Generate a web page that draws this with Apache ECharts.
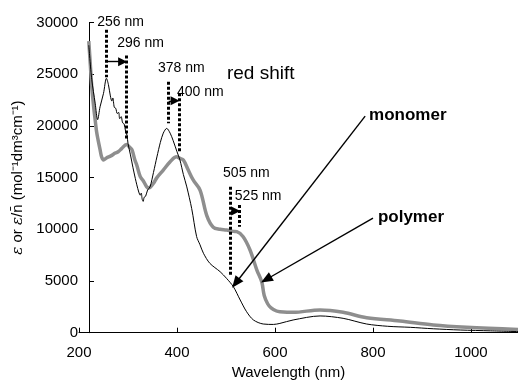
<!DOCTYPE html>
<html><head><meta charset="utf-8">
<script src="https://cdn.jsdelivr.net/npm/echarts@6/dist/echarts.min.js"></script>
<style>html,body{margin:0;padding:0;background:#fff}#c{width:518px;height:381px}</style>
</head><body><div id="c"></div>
<script>
// ---- data ----
const monomerNm = [220,226,233,238,243,250,256,260,264,267,269,272,275,278,281,283,286,289,292,295,298,300,305,310,315,318,322,325,327,329,331,333,336,340,345,352,359,366,372,379,386,392,400,406,413,420,430,440,447,454,467,488,501,515,529,542,556,576,597,610,637,692,739,787,830,876,923,978,1040,1100];
const monomerEps = [27800,24500,22200,20600,21850,23150,24600,24000,22900,22400,22700,21800,21700,21200,21300,20700,20900,20300,20200,19500,19100,18300,17200,16000,14900,14300,13600,13300,13500,12900,12700,13100,13200,13800,14100,15500,17000,18400,19300,19760,19300,18600,17500,16700,15300,14100,12000,9300,8500,7680,6710,5900,5260,4450,3160,2030,1230,840,800,900,1230,1620,1390,840,620,520,380,260,180,100];
const polymerNm = [220,223,226,230,233,236,239,243,246,250,256,265,274,280,287,297,304,308,314,318,325,331,338,341,345,352,359,372,386,399,406,413,423,433,447,461,474,488,501,515,522,535,549,563,573,578,585,592,603,610,637,692,739,787,855,923,991,1100];
const polymerEps = [28200,26000,23800,21800,20570,19400,18630,17700,17020,16700,16900,17100,17370,17500,17800,18200,17900,17700,16700,16200,15090,14700,14120,14000,14050,14450,15000,15730,16540,17020,16860,16700,15730,14770,13800,11300,10200,10000,9930,9800,9770,9280,8000,6060,4900,3600,2800,2400,2100,2030,1970,2200,1970,1450,1130,740,520,300];
const xTicks = {min:200, max:1100, step:200};
const yTicks = {min:0, max:30000, step:5000};

// annotation anchors in data coordinates
const dottedMarks = [ // [nm, top, bottom]
  [256, 29300, 24700],
  [297, 26800, 18600],
  [382, 24260, 20250],
  [404, 23150, 17500],
  [509, 14120, 5420],
  [528, 12350, 10250]
];
const shiftArrows = [ // [fromNm, toNm, eps]
  [257, 289, 26210],
  [383, 396, 22430],
  [510, 520, 11770]
];
const pointerArrows = [ // [fromNm, fromEps, toNm, toEps]
  [784, 20950, 520, 4806],
  [800, 11090, 582, 5144]
];
const textNotes = [ // [nm, eps, text, kind]
  [237, 29990, '256 nm', 'nm'],
  [278, 28010, '296 nm', 'nm'],
  [361, 25600, '378 nm', 'nm'],
  [400, 23280, '400 nm', 'nm'],
  [502, 25020, 'red shift', 'big'],
  [494, 15440, '505 nm', 'nm'],
  [518, 13220, '525 nm', 'nm'],
  [792, 21050, 'monomer', 'bold'],
  [810, 11190, 'polymer', 'bold']
];

const font = "'Liberation Sans', Arial, sans-serif";
const zip = (a, b) => a.map((v, i) => [v, b[i]]);
const dotted = {color:'#000', width:3, type:[3,2]};
const solid = {color:'#000', width:1.4, type:'solid'};
const styleFor = {
  nm: {fontSize:14},
  big: {fontSize:19},
  bold: {fontSize:17, fontWeight:'bold'}
};

const markLineData = [];
dottedMarks.forEach(d => markLineData.push([
  {coord:[d[0], d[1]], symbol:'none', lineStyle:dotted},
  {coord:[d[0], d[2]], symbol:'none'}
]));
shiftArrows.forEach(a => markLineData.push([
  {coord:[a[0], a[2]], symbol:'none', lineStyle:solid},
  {coord:[a[1], a[2]], symbol:'triangle', symbolSize:[9,9]}
]));
pointerArrows.forEach(a => markLineData.push([
  {coord:[a[0], a[1]], symbol:'none', lineStyle:solid},
  {coord:[a[2], a[3]], symbol:'triangle', symbolSize:[10,12]}
]));

const chart = echarts.init(document.getElementById('c'), null, {renderer:'canvas'});
chart.setOption({
  animation:false,
  backgroundColor:'#fff',
  grid:{left:79, right:-2, top:22.5, bottom:48.3, outerBoundsMode:'none', containLabel:false},
  xAxis:{
    type:'value', min:xTicks.min, max:xTicks.max, interval:xTicks.step,
    axisLine:{lineStyle:{color:'#000', width:1}},
    axisTick:{inside:true, length:5, lineStyle:{color:'#000'}},
    axisLabel:{color:'#000', fontSize:15, fontFamily:font, margin:13, showMaxLabel:false,
      formatter:v => String(v)},
    splitLine:{show:false},
    name:'Wavelength (nm)', nameLocation:'middle', nameGap:31,
    nameTextStyle:{color:'#000', fontSize:15, fontFamily:font, padding:[0,22,0,0]}
  },
  yAxis:{
    type:'value', min:yTicks.min, max:yTicks.max, interval:yTicks.step, offset:-10,
    axisLine:{show:true, lineStyle:{color:'#000', width:1}},
    axisTick:{show:true, inside:true, length:5, lineStyle:{color:'#000'}},
    axisLabel:{color:'#000', fontSize:15, fontFamily:font, margin:11, formatter:v => String(v)},
    splitLine:{show:false},
    name:'{i|ε} or {i|ε}/n\u0304 (mol\u207B\u00B9dm\u00B3cm\u207B\u00B9)',
    nameLocation:'middle', nameGap:58,
    nameTextStyle:{color:'#000', fontSize:15, fontFamily:font,
      rich:{i:{fontStyle:'italic', fontSize:15, fontFamily:"'DejaVu Serif', serif", color:'#000'}}}
  },
  series:[
    {
      type:'line', name:'polymer', data:zip(polymerNm, polymerEps),
      showSymbol:false, symbol:'none', smooth:0.35,
      lineStyle:{color:'#8e8e8e', width:3.5}, z:2, silent:true
    },
    {
      type:'line', name:'monomer', data:zip(monomerNm, monomerEps),
      showSymbol:false, symbol:'none', smooth:0.3,
      lineStyle:{color:'#000', width:1}, z:3, silent:true,
      markLine:{silent:true, animation:false, symbol:['none','none'], label:{show:false},
        emphasis:{disabled:true}, data:markLineData},
      markPoint:{silent:true, animation:false, symbol:'circle', symbolSize:0,
        label:{show:true, position:'right', distance:0, color:'#000', fontFamily:font},
        data:textNotes.map(t => ({coord:[t[0], t[1]], value:t[2],
          label:Object.assign({formatter:t[2]}, styleFor[t[3]])}))}
    }
  ]
});
</script></body></html>
